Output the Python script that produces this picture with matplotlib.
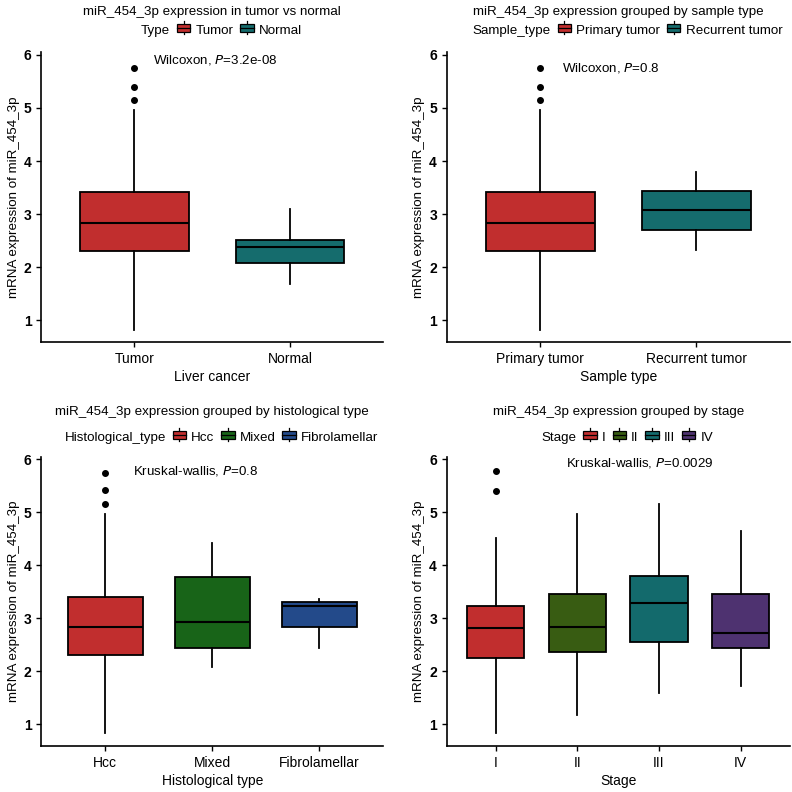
import numpy as np
import matplotlib
matplotlib.use("Agg")
import matplotlib.pyplot as plt
from matplotlib.patches import Rectangle
from matplotlib.lines import Line2D
from matplotlib.legend_handler import HandlerBase

plt.rcParams['font.family'] = ['Liberation Sans', 'DejaVu Sans']

# panel 1: tumor vs normal
type_groups = ["Tumor", "Normal"]
type_q1 = [2.31, 2.07]
type_med = [2.84, 2.38]
type_q3 = [3.42, 2.52]
type_lo = [0.82, 1.68]
type_hi = [4.96, 3.09]
type_out = [[5.15, 5.40, 5.75], []]

# panel 2: sample type
sample_groups = ["Primary tumor", "Recurrent tumor"]
sample_q1 = [2.31, 2.69]
sample_med = [2.84, 3.07]
sample_q3 = [3.42, 3.43]
sample_lo = [0.82, 2.33]
sample_hi = [4.96, 3.79]
sample_out = [[5.15, 5.40, 5.75], []]

# panel 3: histological type
hist_groups = ["Hcc", "Mixed", "Fibrolamellar"]
hist_q1 = [2.31, 2.44, 2.84]
hist_med = [2.84, 2.93, 3.24]
hist_q3 = [3.41, 3.77, 3.30]
hist_lo = [0.83, 2.08, 2.44]
hist_hi = [4.96, 4.41, 3.36]
hist_out = [[5.15, 5.42, 5.74], [], []]

# panel 4: stage
stage_groups = ["I", "II", "III", "IV"]
stage_q1 = [2.25, 2.36, 2.55, 2.44]
stage_med = [2.82, 2.84, 3.28, 2.73]
stage_q3 = [3.24, 3.45, 3.79, 3.45]
stage_lo = [0.83, 1.18, 1.59, 1.72]
stage_hi = [4.51, 4.97, 5.15, 4.64]
stage_out = [[5.40, 5.77], [], [], []]

RED = "#C12E2E"
TEAL = "#156C6D"
FS = 9.6


class BoxKey(HandlerBase):
    def create_artists(self, legend, orig, xd, yd, w, h, fs, trans):
        fc = orig.get_facecolor()
        cx = xd + w / 2
        box = Rectangle((xd, yd + h * 0.15), w, h * 0.7, facecolor=fc,
                        edgecolor="black", lw=0.9, transform=trans)
        med = Line2D([xd, xd + w], [yd + h / 2] * 2, color="black", lw=0.9, transform=trans)
        w1 = Line2D([cx, cx], [yd - h * 0.1, yd + h * 0.15], color="black", lw=0.9, transform=trans)
        w2 = Line2D([cx, cx], [yd + h * 0.85, yd + h * 1.1], color="black", lw=0.9, transform=trans)
        return [w1, w2, box, med]


def panel(ax, groups, q1, med, q3, lo, hi, out, colors, title, legtitle, xlabel, ptext, px, py, tpad, legy):
    stats = []
    for i in range(len(groups)):
        stats.append(dict(med=med[i], q1=q1[i], q3=q3[i], whislo=lo[i], whishi=hi[i],
                          fliers=out[i], label=groups[i]))
    pos = np.arange(1, len(groups) + 1)
    bp = ax.bxp(stats, positions=pos, widths=0.7, patch_artist=True, showcaps=False,
                boxprops=dict(edgecolor="black", lw=1.3),
                medianprops=dict(color="black", lw=1.5),
                whiskerprops=dict(color="black", lw=1.3),
                flierprops=dict(marker="o", markerfacecolor="black", markeredgecolor="black",
                                markersize=4))
    for patch, c in zip(bp["boxes"], colors):
        patch.set_facecolor(c)
    ax.set_xlim(0.4, len(groups) + 0.6)
    ax.set_ylim(0.585, 6.05)
    ax.set_yticks([1, 2, 3, 4, 5, 6])
    ax.set_xticks(pos)
    ax.set_xticklabels(groups, fontsize=10)
    ax.tick_params(axis="y", labelsize=10)
    for t in ax.get_yticklabels():
        t.set_fontweight("bold")
    ax.tick_params(length=3.5, width=1.0, color="black")
    for s in ["top", "right"]:
        ax.spines[s].set_visible(False)
    for s in ["left", "bottom"]:
        ax.spines[s].set_linewidth(1.2)
    ax.set_xlabel(xlabel, fontsize=10, labelpad=3)
    ax.set_ylabel("mRNA expression of miR_454_3p", fontsize=FS, labelpad=3)
    ax.set_title(title, fontsize=FS, pad=tpad)
    ax.text(px, py, ptext, fontsize=FS, ha="left", va="center")
    handles = [Rectangle((0, 0), 1, 1, facecolor="none", edgecolor="none")]
    handles += [Rectangle((0, 0), 1, 1, facecolor=c) for c in colors]
    labels = [legtitle] + list(groups)
    hmap = {h: BoxKey() for h in handles[1:]}
    leg = ax.legend(handles, labels, handler_map=hmap, ncol=len(labels), loc="center",
                    bbox_to_anchor=(0.5, legy), frameon=False, fontsize=FS,
                    handlelength=1.0, handleheight=0.9, handletextpad=0.4,
                    columnspacing=0.5, borderpad=0)
    leg.legend_handles[0].set_visible(False)
    return leg


fig = plt.figure(figsize=(7.92, 7.92), dpi=100)
ax1 = fig.add_axes([0.052, 0.568, 0.432, 0.366])
ax2 = fig.add_axes([0.564, 0.568, 0.433, 0.366])
ax3 = fig.add_axes([0.052, 0.0576, 0.432, 0.366])
ax4 = fig.add_axes([0.564, 0.0576, 0.433, 0.366])

panel(ax1, type_groups, type_q1, type_med, type_q3, type_lo, type_hi, type_out,
      [RED, TEAL], "miR_454_3p expression in tumor vs normal", "Type", "Liver cancer",
      "Wilcoxon, $\\it{P}$=3.2e-08", 1.12, 5.9, 27, 1.075)
panel(ax2, sample_groups, sample_q1, sample_med, sample_q3, sample_lo, sample_hi, sample_out,
      [RED, TEAL], "miR_454_3p expression grouped by sample type", "Sample_type", "Sample type",
      "Wilcoxon, $\\it{P}$=0.8", 1.14, 5.75, 27, 1.075)
panel(ax3, hist_groups, hist_q1, hist_med, hist_q3, hist_lo, hist_hi, hist_out,
      [RED, "#186418", "#234A8A"], "miR_454_3p expression grouped by histological type",
      "Histological_type", "Histological type",
      "Kruskal-wallis, $\\it{P}$=0.8", 1.26, 5.78, 30, 1.065)
panel(ax4, stage_groups, stage_q1, stage_med, stage_q3, stage_lo, stage_hi, stage_out,
      [RED, "#385C12", "#136A6C", "#4E3270"], "miR_454_3p expression grouped by stage",
      "Stage", "Stage",
      "Kruskal-wallis, $\\it{P}$=0.0029", 1.86, 5.92, 30, 1.065)

fig.savefig("out.png", dpi=100)
